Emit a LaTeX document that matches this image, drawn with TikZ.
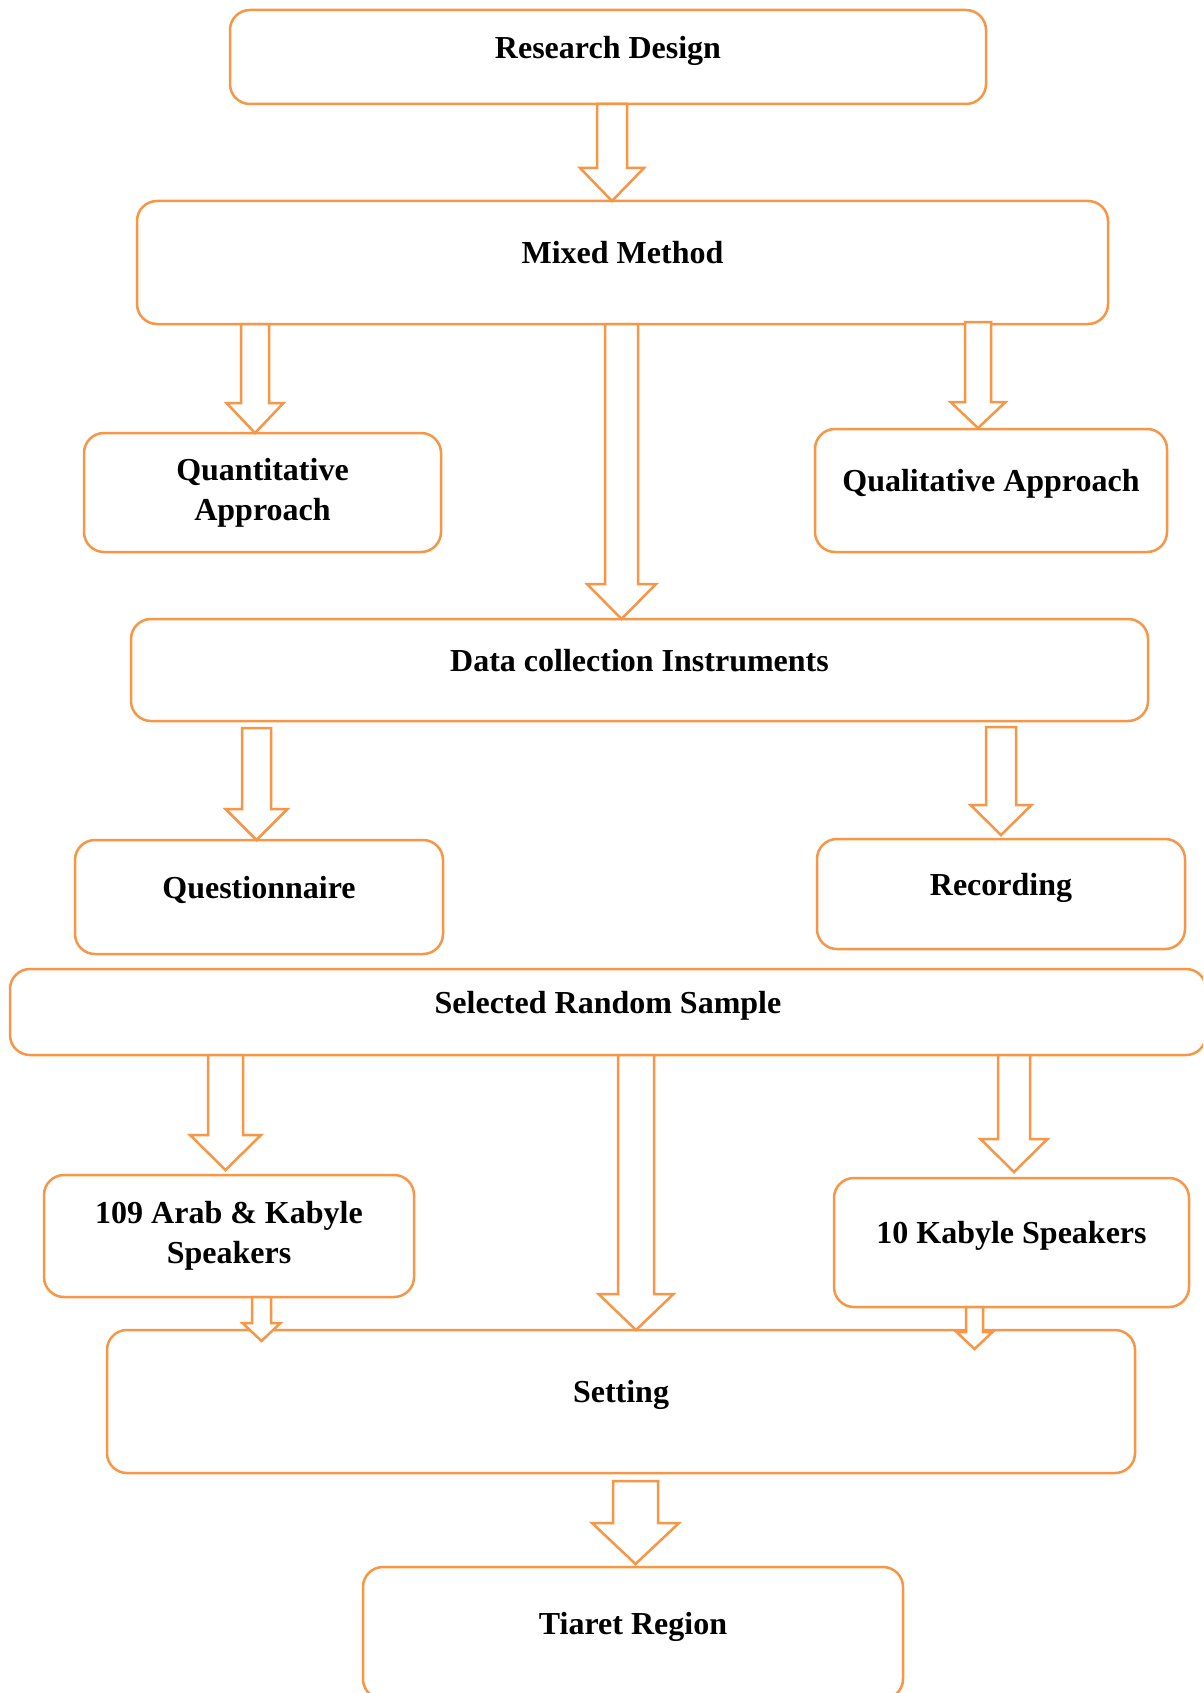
\documentclass[tikz,border=0pt]{standalone}
\usepackage{fontspec}
\setmainfont{Liberation Serif}
\usepackage{xcolor}
\usepackage{tikz}
\usetikzlibrary{calc}

\definecolor{boxorange}{HTML}{F79646}

\tikzset{
  box/.style={rectangle,rounded corners=20pt,draw=boxorange,line width=2.5pt,
    outer sep=0pt,inner sep=0pt,align=center,
    font=\bfseries\fontsize{32}{40}\selectfont},
  onebox/.style={box,text depth=20pt},
  arrowline/.style={draw=boxorange,line width=2.5pt,fill=white,line join=miter}
}

% hollow arrow pointing down: from, to, shaft half width, head half width, head length
\newcommand{\blockarrow}[5]{%
  \draw[arrowline] let \p1=(#1), \p2=(#2) in
    (\x1-#3pt,\y1) -- (\x1-#3pt,\y2+#5pt) -- (\x1-#4pt,\y2+#5pt) -- (\x1,\y2)
    -- (\x1+#4pt,\y2+#5pt) -- (\x1+#3pt,\y2+#5pt) -- (\x1+#3pt,\y1) -- cycle;
}

\begin{document}
\begin{tikzpicture}[x=1pt,y=-1pt]
        \useasboundingbox (0,0) rectangle (1203,1693);
        \clip (0,0) rectangle (1203,1693);
        % Top
        \node[onebox,minimum width=756pt,minimum height=94pt] (design) at (608,57) {Research Design};
        \node[onebox,minimum width=971pt,minimum height=123pt] (mixed) at (622.5,262.5) {Mixed Method};
        % Approaches
        \node[box,minimum width=357pt,minimum height=119pt] (quant) at (262.5,492.5) {Quantitative\\Approach};
        \node[onebox,minimum width=352pt,minimum height=123pt] (qual) at (991,490.5) {Qualitative Approach};
        % Instruments
        \node[onebox,minimum width=1017pt,minimum height=102pt] (data) at (639.5,670) {Data collection Instruments};
        \node[onebox,minimum width=368pt,minimum height=114pt] (quest) at (259,897) {Questionnaire};
        \node[onebox,minimum width=368pt,minimum height=110pt] (rec) at (1001,894) {Recording};
        % Sample
        \node[onebox,minimum width=1196pt,minimum height=86pt] (sample) at (608,1012) {Selected Random Sample};
        \node[box,minimum width=370pt,minimum height=122pt] (arab) at (229,1236) {109 Arab \& Kabyle\\Speakers};
        \node[onebox,minimum width=355pt,minimum height=129pt] (kab) at (1011.5,1242.5) {10 Kabyle Speakers};
        % Bottom
        \node[onebox,minimum width=1028pt,minimum height=143pt] (setting) at (621,1401.5) {Setting};
        \node[onebox,minimum width=540pt,minimum height=132pt] (tiaret) at (633,1633) {Tiaret Region};
        % Arrows
        \blockarrow{design.south -| 612,0}{mixed.north -| 612,0}{15}{32}{33}
        \blockarrow{mixed.south -| 255,0}{quant.north -| 255,0}{14}{28.5}{30}
        \blockarrow{mixed.south -| 621.5,0}{data.north -| 621.5,0}{16.5}{34.5}{35}
        \blockarrow{$(mixed.south -| 978,0)+(0,-2)$}{$(qual.north -| 978,0)+(0,-1)$}{13}{27.5}{26}
        \blockarrow{$(data.south -| 256.5,0)+(0,7)$}{quest.north -| 256.5,0}{14.5}{31}{31}
        \blockarrow{$(data.south -| 1001,0)+(0,6)$}{$(rec.north -| 1001,0)+(0,-4)$}{15}{30.5}{30}
        \blockarrow{sample.south -| 225.5,0}{$(arab.north -| 225.5,0)+(0,-5)$}{17.5}{35.5}{35}
        \blockarrow{sample.south -| 636,0}{setting.north -| 636,0}{18}{37.5}{36}
        \blockarrow{sample.south -| 1014,0}{$(kab.north -| 1014,0)+(0,-6)$}{16}{33.5}{33}
        \blockarrow{arab.south -| 261.5,0}{$(setting.north -| 261.5,0)+(0,11)$}{9.5}{19}{18}
        \blockarrow{kab.south -| 974.5,0}{$(setting.north -| 974.5,0)+(0,19)$}{8.5}{18}{17}
        \blockarrow{$(setting.south -| 635.5,0)+(0,8)$}{$(tiaret.north -| 635.5,0)+(0,-3)$}{22.5}{43.5}{41}
\end{tikzpicture}
\end{document}
